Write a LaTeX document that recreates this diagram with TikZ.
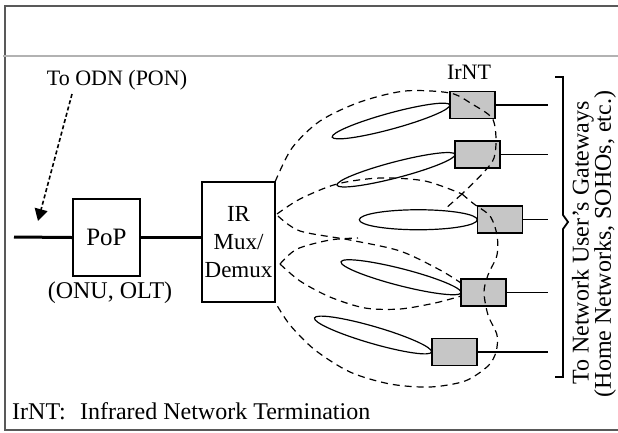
\documentclass[tikz,border=0pt]{standalone}
\usepackage{fontspec}
\setmainfont{Liberation Serif}
\usetikzlibrary{arrows.meta,calc}
\begin{document}
\begin{tikzpicture}[x=1pt,y=-1pt,
  lbl/.style={font=\fontsize{24}{28}\selectfont, inner sep=0pt},
  box/.style={draw=black, line width=2pt, fill=white},
  irnt/.style={draw=black, line width=1.8pt, fill=gray!45, minimum width=45pt, minimum height=27pt, inner sep=0pt},
  thickline/.style={line width=3pt},
  feed/.style={line width=1.8pt},
  beam/.style={line width=1.2pt, dash pattern=on 7pt off 5pt},
  lobe/.style={line width=1.2pt},
  framel/.style={line width=2pt, black!65}
  ]
\useasboundingbox (0,0) rectangle (618,432);
% frame
\draw[framel, line width=2.5pt] (4,6) -- (618,6);
\draw[framel] (5,5) -- (5,431);
\draw[framel] (4,430) -- (618,430);
\draw[line width=2pt, black!30] (3,56) -- (618,56);

% main chain
\node[box, lbl, font=\fontsize{25}{28}\selectfont, minimum width=67pt, minimum height=77pt] (pop) at (106.5,237.5) {PoP};
\node[box, lbl, font=\fontsize{23}{28}\selectfont, align=center, minimum width=73pt, minimum height=120pt] (mux) at (238.5,242) {IR\\Mux/\\Demux};
\coordinate (feedin) at (14,237);
\draw[thickline] (feedin) -- (pop.west);
\draw[thickline] (pop.east) -- (pop.east -| mux.west);
\node[lbl] (onu) at (110,293) {(ONU, OLT)};
\node[lbl, font=\fontsize{22}{26}\selectfont] (odn) at (117,80) {To ODN (PON)};
\coordinate (odnfrom) at (72,94);
\coordinate (odnto) at (38,221);
\draw[line width=1.6pt, dash pattern=on 4pt off 2.5pt, -{Triangle[length=12pt,width=13pt]}] (odnfrom) -- (odnto);

% lobe tips
\coordinate (k1) at (333,137);
\coordinate (k2) at (338,185);
\coordinate (k3) at (360,220);
\coordinate (k4) at (342,262);
\coordinate (k5) at (315,318);

% dashed beams from the mux
\draw[beam] plot[smooth] coordinates {(277,214) (300,199) (337,184) (380,178) (425,181) (462,194)};
\draw[beam] (462,194) -- (445,209);
\draw[beam] plot[smooth] coordinates {(278,216) (300,231) (350,240) (400,251) (440,270) (461,283)};
\draw[beam] plot[smooth] coordinates {(280,264) (297,249) (330,240) (358,238)};
\draw[beam] plot[smooth] coordinates {(280,264) (300,281) (330,297) (365,308) (400,309) (435,303) (461,296)};

% IrNT boxes
\node[irnt] (t1) at (472.5,105) {};
\node[irnt] (t2) at (477.5,154.5) {};
\node[irnt] (t3) at (500,219.5) {};
\node[irnt] (t4) at (483.5,292.5) {};
\node[irnt] (t5) at (454.5,352) {};
\node[lbl, font=\fontsize{22}{26}\selectfont] (irntlbl) at (469,72) {IrNT};

% solid lobes (narrow ellipses from each IrNT towards the mux)
\foreach \n/\a/\r/\h in {1/15.3/61pt/8pt,2/14.6/61pt/8pt,3/0/59pt/10pt,4/-14.4/62pt/8.5pt,5/-16.2/61pt/8.5pt}
  \draw[lobe, rotate around={\a:($(t\n.west)!0.5!(k\n)$)}] ($(t\n.west)!0.5!(k\n)$) ellipse [x radius=\r, y radius=\h];

% outer envelope (over the boxes)
\draw[beam] plot[smooth] coordinates {(275,182) (292,148) (320,121) (360,102) (405,91) (450,93) (472,104) (492,118) (496,138) (494,158) (484,172) (462,194)};
\draw[beam] plot[smooth] coordinates {(462,194) (474,204) (490,216) (497,235) (497,255) (488,275) (484,292) (488,315) (497,335) (496,352) (488,366) (465,381) (430,387) (390,384) (350,372) (315,350) (290,325) (275,302)};

% feeds to gateways
\coordinate (gw) at (548,0);
\foreach \n in {1,...,5}
  \draw[feed] (t\n.east) -- (t\n.east -| gw);

% brace
\draw[line width=1.8pt] (555,77) -- (563,77) -- (563,215) -- (568,222) -- (563,229) -- (563,377) -- (555,377);
\node[lbl, rotate=90] (gw1) at (583,243) {To Network User's Gateways};
\node[lbl, rotate=90] (gw2) at (605,244) {(Home Networks, SOHOs, etc.)};

% legend
\node[lbl, anchor=west] (legend) at (12,411) {IrNT:\hspace{0.6em}Infrared Network Termination};
\end{tikzpicture}
\end{document}
